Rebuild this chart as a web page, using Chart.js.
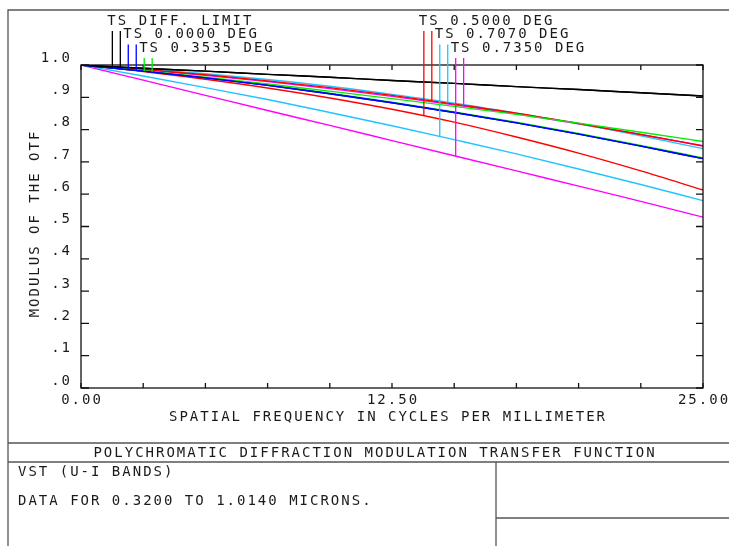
<!DOCTYPE html>
<html>
<head>
<meta charset="utf-8">
<script src="https://cdn.jsdelivr.net/npm/chart.js@4.4.1/dist/chart.umd.min.js"></script>
<style>
  html, body { margin: 0; padding: 0; background: #fff; }
  #wrap { width: 729px; height: 546px; position: relative; }
</style>
</head>
<body>
<div id="wrap"><canvas id="mtf" width="729" height="546"></canvas></div>
<script>
// spatial frequency (cycles/mm) and MTF values
const freqs = [0, 2.5, 5, 7.5, 10, 12.5, 15, 17.5, 20, 22.5, 25];

const diffLimit = [1, 0.990, 0.981, 0.971, 0.962, 0.952, 0.943, 0.933, 0.924, 0.914, 0.904];
const deg0000T  = [1, 0.981, 0.960, 0.937, 0.911, 0.883, 0.853, 0.821, 0.786, 0.749, 0.710];
const deg0000S  = [1, 0.981, 0.960, 0.937, 0.911, 0.883, 0.853, 0.821, 0.786, 0.749, 0.710];
const deg3535T  = [1, 0.982, 0.961, 0.939, 0.913, 0.885, 0.855, 0.823, 0.788, 0.751, 0.712];
const deg3535S  = [1, 0.982, 0.962, 0.941, 0.919, 0.896, 0.872, 0.847, 0.820, 0.792, 0.763];
const deg5000T  = [1, 0.980, 0.956, 0.929, 0.898, 0.863, 0.823, 0.777, 0.727, 0.672, 0.613];
const deg5000S  = [1, 0.986, 0.970, 0.951, 0.930, 0.906, 0.879, 0.851, 0.819, 0.785, 0.749];
const deg7070T  = [1, 0.966, 0.930, 0.893, 0.853, 0.812, 0.769, 0.725, 0.678, 0.630, 0.580];
const deg7070S  = [1, 0.988, 0.973, 0.955, 0.934, 0.909, 0.882, 0.851, 0.818, 0.781, 0.741];
const deg7350T  = [1, 0.953, 0.906, 0.859, 0.813, 0.766, 0.719, 0.672, 0.625, 0.578, 0.529];
const deg7350S  = [1, 0.985, 0.968, 0.949, 0.927, 0.903, 0.877, 0.849, 0.818, 0.785, 0.750];

const fieldLabels = ['TS DIFF. LIMIT', 'TS 0.0000 DEG', 'TS 0.3535 DEG', 'TS 0.5000 DEG', 'TS 0.7070 DEG', 'TS 0.7350 DEG'];
const fieldColors = ['#000000', '#0000ff', '#00ee00', '#ff0000', '#22c4ff', '#ff00ff'];
const fieldCurves = [
  [diffLimit, diffLimit],
  [deg0000T, deg0000S],
  [deg3535T, deg3535S],
  [deg5000T, deg5000S],
  [deg7070T, deg7070S],
  [deg7350T, deg7350S]
];
// frequencies where the legend leader lines drop onto the T and S curves
const legendFreqs = [[1.26, 1.58], [1.90, 2.22], [2.54, 2.86], [13.78, 14.10], [14.42, 14.74], [15.06, 15.38]];

const yTicks = [0, 0.1, 0.2, 0.3, 0.4, 0.5, 0.6, 0.7, 0.8, 0.9, 1.0];
const yTickLabels = ['.0', '.1', '.2', '.3', '.4', '.5', '.6', '.7', '.8', '.9', '1.0'];
const xTicks = [0, 2.5, 5, 7.5, 10, 12.5, 15, 17.5, 20, 22.5, 25];
const xLabelValues = [0, 12.5, 25];
const xTickLabels = ['0.00', '12.50', '25.00'];

const FONT = '14px "DejaVu Sans Mono"';
const INK = '#1a1a1a';

const datasets = [];
fieldCurves.forEach((pair, i) => {
  pair.forEach((curve, k) => {
    datasets.push({
      label: fieldLabels[i] + (k ? ' S' : ' T'),
      data: freqs.map((f, j) => ({ x: f, y: curve[j] })),
      borderColor: fieldColors[i],
      borderWidth: 1.4,
      pointRadius: 0,
      fill: false,
      cubicInterpolationMode: 'monotone'
    });
  });
});

function valueAt(curve, f) {
  for (let j = 0; j < freqs.length - 1; j++) {
    if (f >= freqs[j] && f <= freqs[j + 1]) {
      const t = (f - freqs[j]) / (freqs[j + 1] - freqs[j]);
      return curve[j] + t * (curve[j + 1] - curve[j]);
    }
  }
  return curve[curve.length - 1];
}

function text(ctx, str, x, y, align) {
  ctx.textAlign = align || 'left';
  ctx.fillText(str, x, y);
}

// frame, ticks, labels and title block, drawn like the original plot sheet
const sheet = {
  id: 'sheet',
  afterDatasetsDraw(chart) {
    const ctx = chart.ctx;
    const a = chart.chartArea;
    const xs = chart.scales.x, ys = chart.scales.y;
    ctx.save();

    // page frame
    ctx.strokeStyle = '#555';
    ctx.lineWidth = 1.3;
    ctx.beginPath();
    ctx.moveTo(8, 546); ctx.lineTo(8, 10); ctx.lineTo(729, 10);
    ctx.moveTo(8, 443); ctx.lineTo(729, 443);
    ctx.moveTo(8, 462); ctx.lineTo(729, 462);
    ctx.moveTo(496, 462); ctx.lineTo(496, 546);
    ctx.moveTo(496, 518); ctx.lineTo(729, 518);
    ctx.stroke();

    // plot box with inward ticks
    ctx.strokeStyle = '#111';
    ctx.lineWidth = 1.3;
    ctx.strokeRect(a.left, a.top, a.right - a.left, a.bottom - a.top);
    ctx.beginPath();
    yTicks.forEach(v => {
      const y = ys.getPixelForValue(v);
      ctx.moveTo(a.left, y); ctx.lineTo(a.left + 8, y);
      ctx.moveTo(a.right, y); ctx.lineTo(a.right - 7, y);
    });
    xTicks.forEach(v => {
      const x = xs.getPixelForValue(v);
      ctx.moveTo(x, a.bottom); ctx.lineTo(x, a.bottom - 5);
      ctx.moveTo(x, a.top); ctx.lineTo(x, a.top + 5);
    });
    ctx.stroke();

    // tick labels
    ctx.font = FONT;
    ctx.letterSpacing = '2px';
    ctx.fillStyle = INK;
    ctx.textBaseline = 'middle';
    yTicks.forEach((v, i) => text(ctx, yTickLabels[i], a.left - 9, ys.getPixelForValue(v) - 7, 'right'));
    xLabelValues.forEach((v, i) => text(ctx, xTickLabels[i], xs.getPixelForValue(v) + 1, a.bottom + 12, 'center'));

    // axis titles
    text(ctx, 'SPATIAL FREQUENCY IN CYCLES PER MILLIMETER', (a.left + a.right) / 2 - 4, a.bottom + 29, 'center');
    ctx.save();
    ctx.translate(35, (a.top + a.bottom) / 2 - 3);
    ctx.rotate(-Math.PI / 2);
    text(ctx, 'MODULUS OF THE OTF', 0, 0, 'center');
    ctx.restore();

    // title block
    text(ctx, 'POLYCHROMATIC DIFFRACTION MODULATION TRANSFER FUNCTION', 375, 453, 'center');
    text(ctx, 'VST (U-I BANDS)', 18, 472, 'left');
    text(ctx, 'DATA FOR 0.3200 TO 1.0140 MICRONS.', 18, 501, 'left');

    // legend: labels with leader lines down to each T and S curve
    fieldLabels.forEach((lab, i) => {
      const row = i % 3;
      const labelY = 21 + row * 13.5;
      const xT = xs.getPixelForValue(legendFreqs[i][0]);
      ctx.fillStyle = INK;
      text(ctx, lab, xT - 5, labelY, 'left');
      ctx.strokeStyle = fieldColors[i];
      ctx.lineWidth = 1.3;
      ctx.beginPath();
      legendFreqs[i].forEach((f, k) => {
        const x = xs.getPixelForValue(f);
        const y = ys.getPixelForValue(valueAt(fieldCurves[i][k], f));
        ctx.moveTo(x, labelY + 10);
        ctx.lineTo(x, y);
      });
      ctx.stroke();
    });

    ctx.restore();
  }
};

new Chart(document.getElementById('mtf'), {
  type: 'line',
  data: { datasets: datasets },
  options: {
    responsive: false,
    animation: false,
    devicePixelRatio: 1,
    layout: { padding: { left: 81, right: 26, top: 65, bottom: 158 } },
    scales: {
      x: { type: 'linear', min: 0, max: 25, display: false },
      y: { type: 'linear', min: 0, max: 1, display: false }
    },
    plugins: {
      legend: { display: false },
      tooltip: { enabled: false }
    }
  },
  plugins: [sheet]
});
</script>
</body>
</html>
